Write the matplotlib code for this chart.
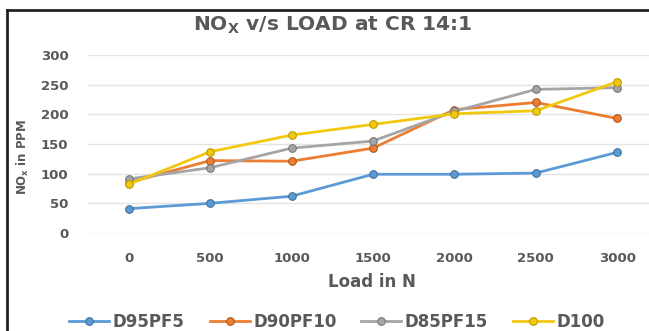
import matplotlib
matplotlib.use("Agg")
import matplotlib.pyplot as plt
from matplotlib.lines import Line2D

plt.rcParams['font.family'] = ['DejaVu Sans']
plt.rcParams['font.weight'] = 'bold'
plt.rcParams['mathtext.default'] = 'bf'

# Data
loads = ["0", "500", "1000", "1500", "2000", "2500", "3000"]
d95pf5 = [41, 50, 62, 99, 99, 101, 136]
d90pf10 = [85, 122, 121, 143, 208, 220, 193]
d85pf15 = [91, 110, 143, 155, 205, 242, 245]
d100 = [82, 137, 165, 183, 201, 206, 255]

series_names = ["D95PF5", "D90PF10", "D85PF15", "D100"]
series_values = [d95pf5, d90pf10, d85pf15, d100]
colors = ["#5B9BD5", "#ED7D31", "#A5A5A5", "#F2C80F"]
edge_colors = ["#41719C", "#AE5A21", "#787878", "#BC9B00"]

text_color = "#595959"

fig = plt.figure(figsize=(6.49, 3.31), dpi=100)
# plot area runs past the right edge of the canvas
ax = fig.add_axes([88 / 649, 1 - 233 / 331, (658 - 88) / 649, (233 - 55) / 331])

x = list(range(len(loads)))
for name, vals, c, ec in zip(series_names, series_values, colors, edge_colors):
    ax.plot(x, vals, color=c, lw=2, marker='o', ms=5.5, mfc=c, mec=ec,
            mew=0.8, label=name)

ax.set_ylim(0, 300)
ax.set_yticks(range(0, 301, 50))
ax.set_xlim(-0.5, 6.5)
ax.set_xticks(x)
ax.set_xticklabels(loads)
ax.grid(axis='y', color='#E3E3E3', lw=1)
ax.set_axisbelow(True)
for s in ax.spines.values():
    s.set_visible(False)
ax.tick_params(axis='both', length=0, labelsize=9.5, labelcolor=text_color)
ax.tick_params(axis='y', pad=14)
ax.tick_params(axis='x', pad=14)

fig.text(333 / 649, 1 - 25 / 331, r"NO$_\mathregular{X}$ v/s LOAD at CR 14:1", ha='center',
         va='center', fontsize=14.5, color=text_color, fontweight='bold')
fig.text(23 / 649, 1 - 157 / 331, r"NO$_\mathregular{x}$ in PPM", rotation=90, ha='center',
         va='center', fontsize=8.5, color=text_color, fontweight='bold')
fig.text(372 / 649, 1 - 282 / 331, "Load in N", ha='center', va='center',
         fontsize=12, color=text_color, fontweight='bold')

handles, labels = ax.get_legend_handles_labels()
fig.legend(handles, labels, loc='center', bbox_to_anchor=(337 / 649, 1 - 322 / 331),
           ncol=4, frameon=False, fontsize=12, labelcolor=text_color,
           handlelength=2.4, handletextpad=0.2, columnspacing=1.5)

# Frame on the left and top edges
fig.add_artist(Line2D([7 / 649, 7 / 649], [0, 1 - 10 / 331], transform=fig.transFigure,
                      color='#222222', lw=2))
fig.add_artist(Line2D([7 / 649, 1], [1 - 10 / 331, 1 - 10 / 331], transform=fig.transFigure,
                      color='#222222', lw=2))

fig.savefig("out.png", dpi=100)
